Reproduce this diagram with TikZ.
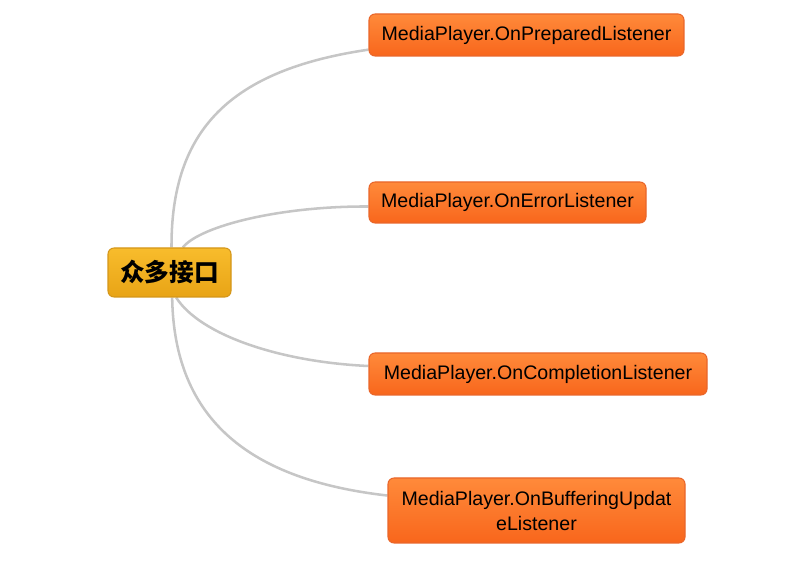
\documentclass[tikz,border=0pt]{standalone}
\usepackage{fontspec}
\setmainfont{Liberation Sans}
\newfontfamily\cjk{Noto Sans CJK SC}
\usetikzlibrary{positioning, backgrounds}
\definecolor{orangetop}{HTML}{FF8A3A}
\definecolor{orangebot}{HTML}{F8661C}
\definecolor{orangeline}{HTML}{E9662A}
\definecolor{goldtop}{HTML}{F8BC2C}
\definecolor{goldbot}{HTML}{E8A416}
\definecolor{goldline}{HTML}{D4961A}
\definecolor{linkgray}{HTML}{C6C6C6}

\begin{document}
\begin{tikzpicture}[
    x=0.75pt, y=-0.75pt,
    box/.style={rectangle, draw=orangeline, line width=0.8pt, rounded corners=4.5pt, top color=orangetop, bottom color=orangebot, align=center, inner sep=0pt, font=\fontsize{14.7}{18.75}\selectfont},
    root/.style={rectangle, draw=goldline, line width=0.8pt, rounded corners=4.5pt, top color=goldtop, bottom color=goldbot, align=center, inner sep=0pt, font=\cjk\bfseries\fontsize{18.5}{22}\selectfont},
    link/.style={draw=linkgray, line width=1.9pt}
]
\useasboundingbox (0,0) rectangle (793,566);

% Root
\node[root, minimum width=92.25pt, minimum height=36.75pt] (root) at (169.5,272.5) {众多接口};

% Listeners
\node[box, minimum width=236.25pt, minimum height=31.5pt] (prepared) at (526.5,35) {MediaPlayer.OnPreparedListener};
\node[box, minimum width=207.75pt, minimum height=30.75pt] (error) at (507.5,202.5) {MediaPlayer.OnErrorListener};
\node[box, minimum width=253.5pt, minimum height=31.5pt] (completion) at (538,374) {MediaPlayer.OnCompletionListener};
\node[box, minimum width=222.75pt, minimum height=48.75pt] (buffering) at (536.5,510.5) {MediaPlayer.OnBufferingUpdat\\eListener};

% Links
\begin{scope}[on background layer]
\draw[link] ([xshift=1.5pt]root.north) .. controls (171,130) and (230,70) .. ([yshift=-11pt]prepared.west);
\draw[link] ([xshift=10pt]root.north) .. controls (200,226) and (280,206) .. ([yshift=-3pt]error.west);
\draw[link] ([xshift=5pt]root.south) .. controls (200,335) and (280,362) .. ([yshift=6pt]completion.west);
\draw[link] ([xshift=2pt]root.south) .. controls (174,420) and (250,480) .. ([yshift=36pt]buffering.south west);
\end{scope}

\end{tikzpicture}
\end{document}
